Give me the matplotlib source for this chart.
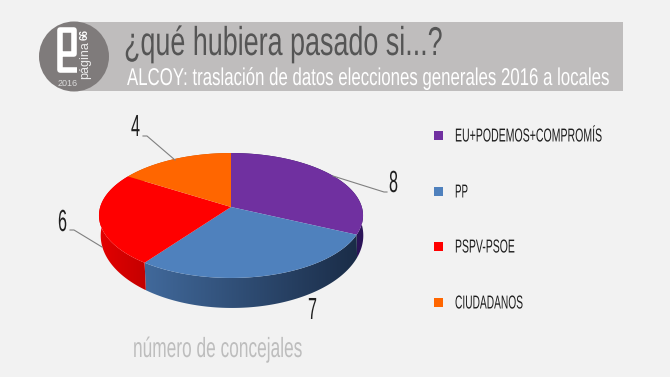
import numpy as np
import matplotlib
matplotlib.use("Agg")
import matplotlib.pyplot as plt
import matplotlib.patheffects as pe
from matplotlib.patches import Circle, Rectangle, Polygon
from matplotlib.colors import to_rgb
from matplotlib.transforms import Affine2D

# data
parties = ["EU+PODEMOS+COMPROMÍS", "PP", "PSPV-PSOE", "CIUDADANOS"]
seats = [8, 7, 6, 4]
title_text = "¿qué hubiera pasado si...?"
subtitle_text = "ALCOY: traslación de datos elecciones generales 2016 a locales"
note_text = "número de concejales"

colors = ["#7030a0", "#4f81bd", "#ff0000", "#ff6600"]
side_left = ["#2c1458", "#41699b", "#e40000", "#c05000"]
side_right = ["#2c1458", "#1a2c47", "#c40000", "#c05000"]

FONT = "Liberation Sans"
W, H = 670, 377
fig = plt.figure(figsize=(W / 100, H / 100), dpi=100, facecolor="#f2f2f2")
ax = fig.add_axes([0, 0, 1, 1])
renderer = fig.canvas.get_renderer()


class Condense(pe.AbstractPathEffect):
    """Reshape a text's glyphs: the installed fonts have no condensed cut."""

    def __init__(self, sx, sy):
        super().__init__()
        self.sx, self.sy = sx, sy

    def draw_path(self, renderer, gc, tpath, affine, rgbFace=None):
        renderer.draw_path(gc, tpath, Affine2D().scale(self.sx, self.sy) + affine, rgbFace)


def fit(text, x0, x1, baseline, size, color, zorder=6):
    t = ax.text(x0, baseline, text, color=color, family=FONT, va="baseline", ha="left",
                fontsize=size, zorder=zorder)
    natural = t.get_window_extent(renderer).width
    nominal = min(size, size * (W - x0 - 6) / natural)
    t.set_fontsize(nominal)
    width = t.get_window_extent(renderer).width
    t.set_path_effects([Condense((x1 - x0) / width, size / nominal)])
    return t


def project(theta, cx, cy, R, A, b):
    """Perspective view of a disc; theta runs clockwise from 12 o'clock."""
    u, v = np.sin(theta), np.cos(theta)
    d = 1 + b * v
    return cx + R * u / d, cy - A * v / d


top = dict(cx=231, cy=207, R=130.8, A=61.3, b=0.136)
bottom = dict(cx=232, cy=225.4, R=130, A=71, b=0.14)

# header band and logo
ax.add_patch(Rectangle((74, 22), 549, 69, fc="#bfbdbd", ec="none"))
ax.add_patch(Circle((74, 56.5), 35, fc="#7f7b7b", ec="none"))
ax.plot([77, 60, 60, 74, 74, 60], [69.5, 69.5, 30, 30, 53.5, 53.5], color="white", lw=4,
        solid_joinstyle="round", solid_capstyle="butt")
ax.text(85, 60, "página", color="#ececec", family="Liberation Sans", fontsize=9, rotation=90,
        ha="center", va="center")
ax.text(85, 35, "66", color="white", family="Liberation Sans", fontsize=7, fontweight="bold",
        rotation=90, ha="center", va="center")
ax.text(68, 83.5, "2016", color="#dcdcdc", family="Liberation Sans", fontsize=6.5, ha="center", va="center")

fit(title_text, 124, 443, 55, 29, "#555555")
fit(subtitle_text, 127, 608, 85, 17.5, "white")

# pie
fracs = np.array(seats, dtype=float) / sum(seats)
edges = np.concatenate([[0], np.cumsum(fracs)]) * 2 * np.pi
for i in range(len(seats)):
    th = np.linspace(edges[i], edges[i + 1], 200)
    xt, yt = project(th, **top)
    xb, yb = project(th, **bottom)
    wall = Polygon(np.c_[np.r_[xt, xb[::-1]], np.r_[yt, yb[::-1]]], closed=True, transform=ax.transData,
                   fc="none", ec="none")
    ax.add_patch(wall)
    c0, c1 = np.array(to_rgb(side_left[i])), np.array(to_rgb(side_right[i]))
    ramp = np.linspace(0, 1, 256)[None, :, None]
    grad = c0 + (c1 - c0) * ramp
    xa, xz = min(xt.min(), xb.min()), max(xt.max(), xb.max())
    ya, yz = min(yt.min(), yb.min()), max(yt.max(), yb.max())
    im = ax.imshow(grad, extent=(xa, xz, yz, ya), aspect="auto", zorder=2, interpolation="bilinear")
    im.set_clip_path(wall)
for i in range(len(seats)):
    th = np.linspace(edges[i], edges[i + 1], 200)
    x, y = project(th, **top)
    ax.fill(np.r_[top["cx"], x], np.r_[top["cy"], y], fc=colors[i], ec="none", zorder=3)

# value labels with leader lines
label_left = [389, 308, 58, 131]
label_base = [192, 319, 231, 136]
leaders = [[(333, 176), (384, 192), (387, 192)], None,
           [(102, 247), (74, 230), (70, 230)], [(175, 160), (147, 136), (143, 136)]]
for v, lx, ly, ld in zip(seats, label_left, label_base, leaders):
    fit(str(v), lx, lx + 9, ly, 22, "#1f1f1f")
    if ld:
        ax.plot(*zip(*ld), color="#808080", lw=0.8, zorder=4)

# legend
leg_y = [135, 191, 246, 302]
leg_end = [602, 468, 515, 523]
for name, c, ly, xe in zip(parties, colors, leg_y, leg_end):
    ax.add_patch(Rectangle((434, ly - 4.5), 9, 9, fc=c, ec="none"))
    fit(name, 455, xe, ly + 6.5, 13.5, "#1f1f1f")

fit(note_text, 133, 302, 357, 20, "#bdbdbd")

ax.set_xlim(0, W)
ax.set_ylim(H, 0)
ax.axis("off")
fig.savefig("out.png", dpi=100, facecolor=fig.get_facecolor())
